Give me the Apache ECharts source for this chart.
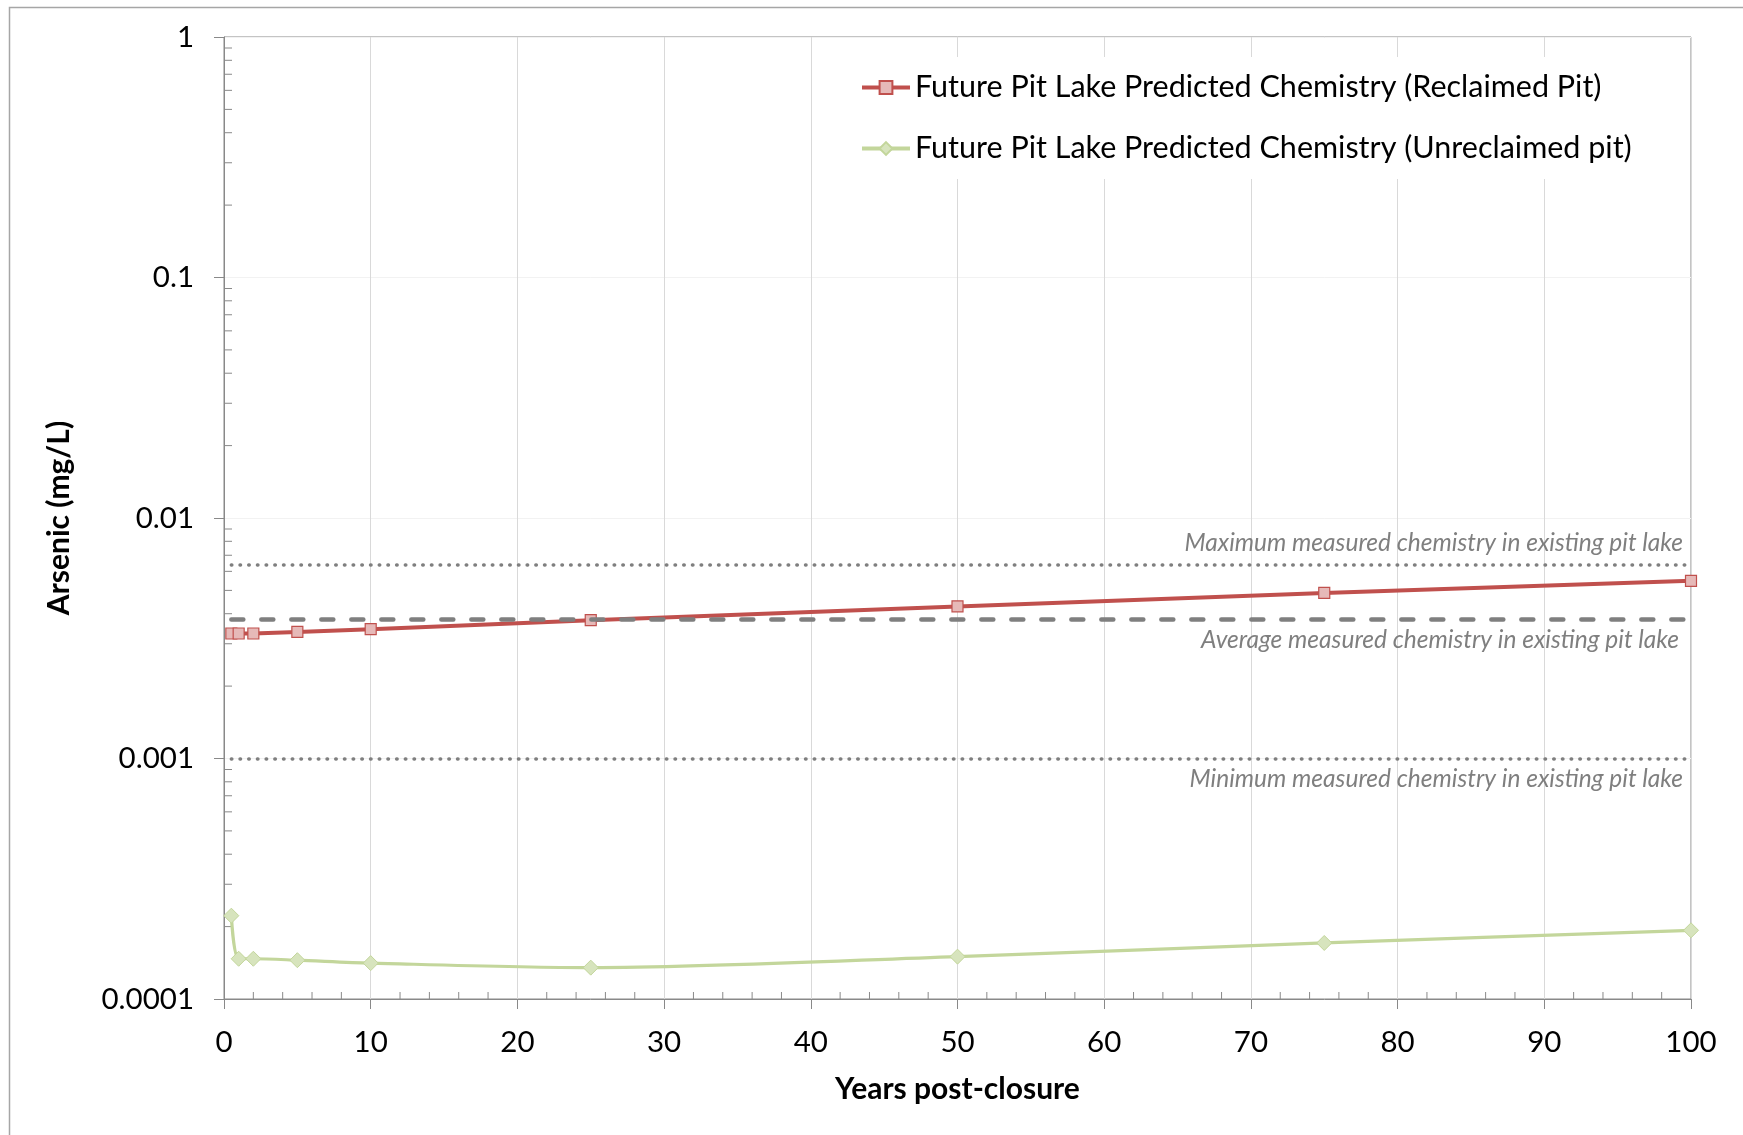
<!DOCTYPE html>
<html>
<head>
<meta charset="utf-8">
<script src="https://cdn.jsdelivr.net/npm/echarts@6/dist/echarts.min.js"></script>
<style>
html,body{margin:0;padding:0;background:#fff;}
#chart{width:1743px;height:1135px;}
</style>
</head>
<body>
<div id="chart"></div>
<script>
// ---- data ----
const years = [0.5, 1, 2, 5, 10, 25, 50, 75, 100];
const reclaimed = [0.00331, 0.00331, 0.00331, 0.00336, 0.00345, 0.00376, 0.00429, 0.00488, 0.00548];
const unreclaimed = [0.000222, 0.000147, 0.000147, 0.000145, 0.000141, 0.000135, 0.000150, 0.000171, 0.000193];
const seriesNames = ['Future Pit Lake Predicted Chemistry (Reclaimed Pit)', 'Future Pit Lake Predicted Chemistry (Unreclaimed pit)'];
const refX = [0.5, 100];
const refMax = 0.0064;
const refAvg = 0.0038;
const refMin = 0.001;
const refLabels = ['Maximum measured chemistry in existing pit lake', 'Average measured chemistry in existing pit lake', 'Minimum measured chemistry in existing pit lake'];
const yTickLabels = ['0.0001', '0.001', '0.01', '0.1', '1'];
const yDecades = [0.0001, 0.001, 0.01, 0.1];
const yMinorMult = [2, 3, 4, 5, 6, 7, 8, 9];
const xMinorStep = 2;

const FONT = 'Lato';
const AX = '#898989';

const yMinor = [];
yDecades.forEach(d => yMinorMult.forEach(m => yMinor.push([0, d * m])));
const xMinor = [];
for (let x = xMinorStep; x < 100; x += xMinorStep) { if (x % 10 !== 0) xMinor.push([x, 0.0001]); }

function refSeries(val, label, pos, color, width, dash, dist) {
  return {
    type: 'line', data: [], silent: true,
    markLine: {
      silent: true, symbol: ['none', 'none'], animation: false,
      lineStyle: { color: color, width: width, type: dash, cap: 'round' },
      label: {
        show: true, position: pos, formatter: label, distance: dist,
        color: '#7f7f7f', fontFamily: FONT, fontStyle: 'italic', fontSize: 24.5
      },
      emphasis: { disabled: true },
      data: [[{ coord: [refX[0], val] }, { coord: [refX[1], val] }]]
    }
  };
}

const chart = echarts.init(document.getElementById('chart'));
chart.setOption({
  animation: false,
  backgroundColor: '#fff',
  graphic: [{
    type: 'rect', left: 7, top: 5, silent: true,
    shape: { width: 1800, height: 1200 },
    style: { fill: 'none', stroke: '#a6a6a6', lineWidth: 1.5 }
  }],
  grid: { left: 224, top: 37, right: 52, bottom: 136, show: true, borderColor: AX, borderWidth: 1, backgroundColor: 'transparent' },
  legend: {
    data: seriesNames, orient: 'vertical', left: 848, top: 57,
    padding: [14, 12], backgroundColor: '#fff', itemGap: 28,
    itemWidth: 48, itemHeight: 16,
    lineStyle: { width: 4 },
    textStyle: { fontFamily: FONT, fontSize: 30.5, color: '#000', lineHeight: 33 }
  },
  xAxis: {
    type: 'value', min: 0, max: 100, interval: 10,
    name: 'Years post-closure', nameLocation: 'middle', nameGap: 75,
    nameTextStyle: { fontFamily: FONT, fontWeight: 'bold', fontSize: 30, color: '#000' },
    axisLine: { show: true, lineStyle: { color: AX, width: 1 } },
    axisTick: { show: true, inside: false, length: 10, lineStyle: { color: AX } },
    axisLabel: { fontFamily: FONT, fontSize: 29.5, color: '#000', margin: 28 },
    splitLine: { show: true, lineStyle: { color: '#d9d9d9', width: 1 } }
  },
  yAxis: {
    type: 'log', logBase: 10, min: 0.0001, max: 1,
    name: 'Arsenic (mg/L)', nameLocation: 'middle', nameGap: 150,
    nameTextStyle: { fontFamily: FONT, fontWeight: 'bold', fontSize: 30, color: '#000' },
    axisLine: { show: true, lineStyle: { color: AX, width: 1 } },
    axisTick: { show: true, inside: false, length: 10, lineStyle: { color: AX } },
    axisLabel: {
      fontFamily: FONT, fontSize: 29.5, color: '#000', margin: 30,
      formatter: v => yTickLabels[Math.round(Math.log10(v)) + 4]
    },
    splitLine: { show: true, lineStyle: { color: '#f2f2f2', width: 1 } }
  },
  series: [
    {
      type: 'custom', silent: true, clip: false, data: yMinor, encode: { x: 0, y: 1 },
      renderItem: (params, api) => {
        const p = api.coord([api.value(0), api.value(1)]);
        return { type: 'line', shape: { x1: p[0], y1: p[1], x2: p[0] + 8, y2: p[1] }, style: { stroke: AX, lineWidth: 1 } };
      }
    },
    {
      type: 'custom', silent: true, clip: false, data: xMinor, encode: { x: 0, y: 1 },
      renderItem: (params, api) => {
        const p = api.coord([api.value(0), api.value(1)]);
        return { type: 'line', shape: { x1: p[0], y1: p[1], x2: p[0], y2: p[1] - 7 }, style: { stroke: AX, lineWidth: 1 } };
      }
    },
    refSeries(refMax, refLabels[0], 'insideEndTop', '#7f7f7f', 3.5, [0.5, 8.2], [8, 9]),
    refSeries(refAvg, refLabels[1], 'insideEndBottom', '#7f7f7f', 4.5, [12, 18], [12, 9]),
    refSeries(refMin, refLabels[2], 'insideEndBottom', '#7f7f7f', 3.5, [0.5, 8.2], [8, 8]),
    {
      name: seriesNames[0], type: 'line',
      data: years.map((x, i) => [x, reclaimed[i]]),
      symbol: 'rect', symbolSize: 11, showSymbol: true,
      lineStyle: { color: '#C0504D', width: 4 },
      itemStyle: { color: '#E6B9B8', borderColor: '#C0504D', borderWidth: 1.2 },
      emphasis: { disabled: true }
    },
    {
      name: seriesNames[1], type: 'line', smooth: 0.3,
      data: years.map((x, i) => [x, unreclaimed[i]]),
      symbol: 'diamond', symbolSize: 15, showSymbol: true,
      lineStyle: { color: '#C3D69B', width: 3.2 },
      itemStyle: { color: '#D7E4BD', borderColor: '#C3D69B', borderWidth: 1 },
      emphasis: { disabled: true }
    }
  ]
});
</script>
</body>
</html>
